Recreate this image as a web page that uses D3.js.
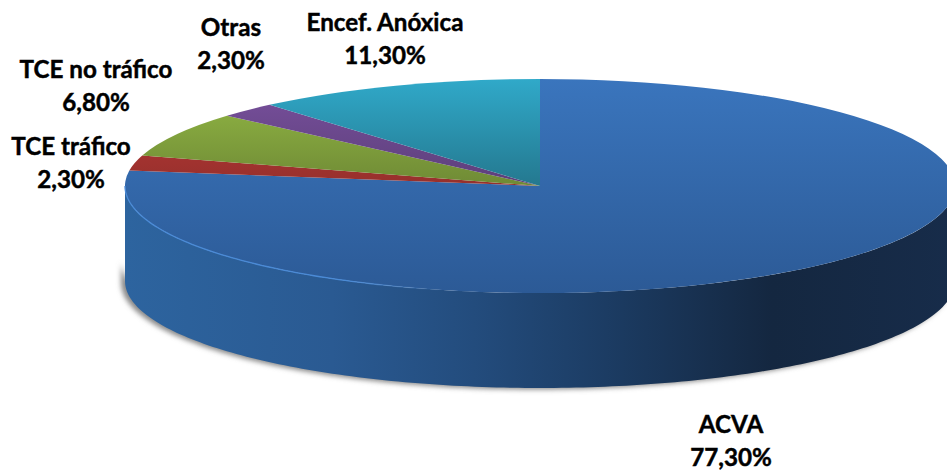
<!DOCTYPE html>
<html><head><meta charset="utf-8">
<script src="https://cdnjs.cloudflare.com/ajax/libs/d3/7.8.5/d3.min.js"></script>
<style>html,body{margin:0;padding:0;background:#fff;overflow:hidden}svg{display:block}
text{font-family:Lato,"Open Sans",sans-serif;font-weight:700;font-size:24.2px;fill:#000;stroke:#000;stroke-width:.45px;text-anchor:middle}</style>
</head><body><svg id="c" width="947" height="471"></svg>
<script>
const categories = ["ACVA","TCE tráfico","TCE no tráfico","Otras","Encef. Anóxica"];
const values = [77.3,2.3,6.8,2.3,11.3];
const valueLabels = ["77,30%","2,30%","6,80%","2,30%","11,30%"];
const topColors = ["#3a75bd","#c4393a","#95bb46","#7a519f","#30a9c9"];
const bottomColors = ["#2c5a96","#96302c","#6f8a35","#5c3f7a","#24788f"];
const labelPos = [[731,433],[71,155],[96,78],[231,36],[385,31]];

const W=947,H=471,cx=540,cy=186,rx=415,ry=107,depth=95;
const svg=d3.select("#c"), defs=svg.append("defs");
const R=100;
const pie=d3.pie().sort(null).value(d=>d)(values);
const arc=d3.arc().innerRadius(0).outerRadius(R);

const px=d3.scaleLinear().domain([-1,1]).range([cx-rx,cx+rx]);
const py=d3.scaleLinear().domain([-1,1]).range([cy-ry,cy+ry]);

pie.forEach((d,i)=>{
  const g=defs.append("linearGradient").attr("id",`face${i}`).attr("gradientUnits","userSpaceOnUse")
    .attr("x1",0).attr("x2",0).attr("y1",-R).attr("y2",i===0?R:0);
  g.append("stop").attr("offset",0).attr("stop-color",topColors[i]);
  g.append("stop").attr("offset",1).attr("stop-color",bottomColors[i]);
});
const wg=defs.append("linearGradient").attr("id","wall").attr("gradientUnits","userSpaceOnUse")
  .attr("x1",cx-rx).attr("x2",cx+rx).attr("y1",0).attr("y2",0);
[[0,"#2d649f"],[0.25,"#2a5a92"],[0.42,"#234c7d"],[0.6,"#1b3a60"],[0.78,"#142740"],[1,"#172c4a"]]
  .forEach(s=>wg.append("stop").attr("offset",s[0]).attr("stop-color",s[1]));
const hl=defs.append("linearGradient").attr("id","rim").attr("gradientUnits","userSpaceOnUse")
  .attr("x1",cx-rx).attr("x2",cx-100).attr("y1",0).attr("y2",0);
hl.append("stop").attr("offset",0).attr("stop-color","#4a8ad6");
hl.append("stop").attr("offset",0.7).attr("stop-color","#4a8ad6");
hl.append("stop").attr("offset",1).attr("stop-color","#4a8ad6").attr("stop-opacity",0);
defs.append("filter").attr("id","blur").attr("x","-5%").attr("y","-30%").attr("width","110%").attr("height","160%")
  .append("feGaussianBlur").attr("stdDeviation",2.6);

const a0=Math.PI/2, a1=Math.min(pie[0].endAngle,Math.PI*1.5);
const samples=d3.range(0,181).map(k=>a0+(a1-a0)*k/180);
const ex=a=>px(Math.sin(a)), ey=a=>py(-Math.cos(a));

const band=d3.area().x(ex).y0(a=>ey(a)+depth-22).y1(a=>ey(a)+depth);
svg.append("path").attr("d",band(samples)).attr("fill","#8a8a8a")
  .attr("transform","translate(-4,1.5)").attr("filter","url(#blur)");

const area=d3.area().x(ex).y0(ey).y1(a=>ey(a)+depth);
svg.append("path").attr("d",area(samples)).attr("fill","url(#wall)");

svg.append("g").selectAll("path").data(pie).join("path")
  .attr("d",arc)
  .attr("transform",`translate(${cx},${cy}) scale(${rx/R},${ry/R})`)
  .attr("fill",(d,i)=>`url(#face${i})`);

const line=d3.line().x(ex).y(ey);
svg.append("path").attr("d",line(samples.filter(a=>a>Math.PI*1.02)))
  .attr("fill","none").attr("stroke","url(#rim)").attr("stroke-width",1.3);

const lab=svg.append("g");
categories.forEach((c,i)=>{
  lab.append("text").attr("x",labelPos[i][0]).attr("y",labelPos[i][1]).text(c);
  lab.append("text").attr("x",labelPos[i][0]).attr("y",labelPos[i][1]+32.5).text(valueLabels[i]);
});
</script></body></html>
